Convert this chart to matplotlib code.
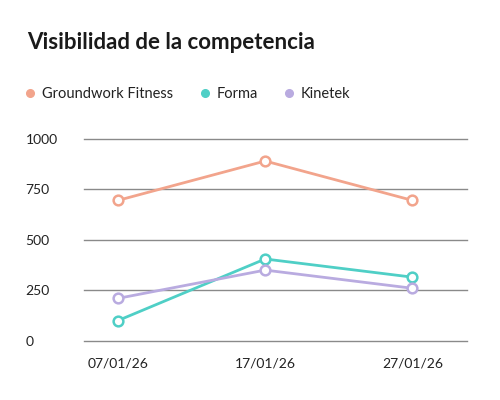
import matplotlib
matplotlib.use("Agg")
import matplotlib.pyplot as plt
from matplotlib.lines import Line2D

# Data
dates = ["07/01/26", "17/01/26", "27/01/26"]
series_names = ["Groundwork Fitness", "Forma", "Kinetek"]
groundwork = [695, 890, 695]
forma = [100, 405, 315]
kinetek = [210, 350, 260]
colors = ["#F2A48C", "#4FCFC6", "#B9ABE0"]
y_ticks = [0, 250, 500, 750, 1000]

plt.rcParams["font.family"] = ["Lato", "DejaVu Sans"]

fig = plt.figure(figsize=(5, 4), dpi=100)
ax = fig.add_axes([0.168, 0.148, 0.766, 0.505])

x = list(range(len(dates)))
for vals, col in zip([groundwork, forma, kinetek], colors):
    ax.plot(x, vals, color=col, lw=2, marker="o", ms=7, mfc="white",
            mec=col, mew=1.8, zorder=3)

ax.set_ylim(0, 1000)
ax.set_xlim(-0.23, 2.37)
ax.set_yticks(y_ticks)
ax.set_yticklabels([str(t) for t in y_ticks])
ax.set_xticks(x)
ax.set_xticklabels(dates)
ax.grid(axis="y", color="#8a8a8a", lw=1)
for gl in ax.get_ygridlines():
    gl.set_clip_on(False)
ax.set_axisbelow(True)
for s in ax.spines.values():
    s.set_visible(False)
ax.tick_params(length=0, labelsize=10, colors="#222222")
ax.tick_params(axis="x", pad=12)
for lab in ax.get_yticklabels():
    lab.set_horizontalalignment("left")
ax.yaxis.set_tick_params(pad=42)

fig.text(0.054, 0.893, "Visibilidad de la competencia", fontsize=16,
         fontweight="bold", color="#1a1a1a", va="center")

handles = [Line2D([], [], ls="none", marker="o", ms=5.5, color=c) for c in colors]
fig.legend(handles, series_names, loc="center left", bbox_to_anchor=(0.02, 0.764),
           ncol=3, frameon=False, fontsize=10.5, handletextpad=0.3,
           columnspacing=1.65, handlelength=1.0, labelcolor="#222222")

fig.savefig("out.png", dpi=100)
